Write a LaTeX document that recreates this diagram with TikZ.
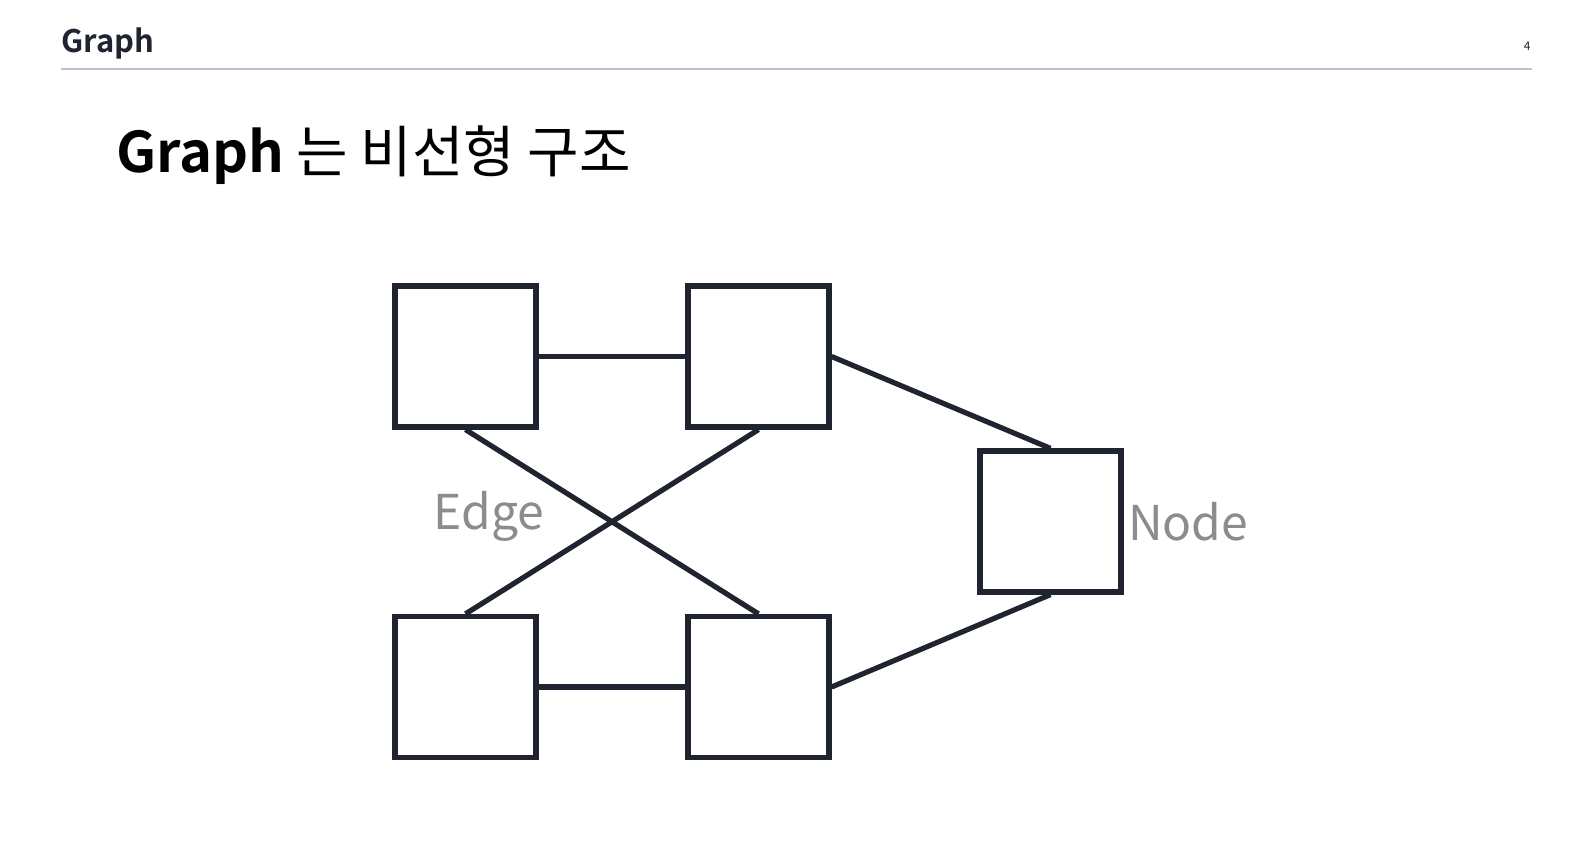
\documentclass[tikz,border=0pt]{standalone}
\usepackage{fontspec}
\setmainfont{Noto Sans CJK KR}[BoldFont={Noto Sans CJK KR Bold}]
\usetikzlibrary{positioning}
\definecolor{ink}{HTML}{1F2430}
\definecolor{rulegray}{HTML}{B8C2D0}
\definecolor{labgray}{HTML}{8C8C8C}
\begin{document}
\begin{tikzpicture}[
    x=0.5pt, y=-0.5pt,
    gnode/.style={draw=ink, line width=2.6pt, fill=white, inner sep=0pt,
                  minimum size=70.5pt},
    gedge/.style={draw=ink, line width=2.6pt},
    lbl/.style={text=labgray, inner sep=0pt, font=\fontsize{24}{28}\selectfont},
]
\useasboundingbox (0,0) rectangle (1589,866);
% Header bar
\node[anchor=base west, inner sep=0pt, text=ink, font=\fontsize{15.5}{18}\selectfont\bfseries] (head) at (61,53) {Graph};
\node[anchor=base east, inner sep=0pt, text=ink, font=\fontsize{6}{7}\selectfont] (page) at (1531,51) {4};
\draw[rulegray, line width=1pt] (61,69) -- (1532,69);

% Title
\node[anchor=base west, inner sep=0pt, font=\fontsize{28}{33}\selectfont] (title) at (116,173)
    {\textbf{Graph} 는 비선형 구조};

% Nodes
\node[gnode] (A) at (465.5,356.5) {};
\node[gnode] (B) at (758.5,356.5) {};
\node[gnode] (C) at (465.5,687) {};
\node[gnode] (D) at (758.5,687) {};
\node[gnode] (E) at (1050.5,521.5) {};

% Edges
\draw[gedge] (A.east) -- (B.west);
\draw[gedge] (C.east) -- (D.west);
\draw[gedge] (A.south) -- (D.north);
\draw[gedge] (B.south) -- (C.north);
\draw[gedge] (B.east) -- (E.north);
\draw[gedge] (D.east) -- (E.south);

% Labels
\node[lbl] (edgelbl) at (489,516) {Edge};
\node[lbl, anchor=west, right=2pt of E.east] (nodelbl) {Node};
\end{tikzpicture}
\end{document}
